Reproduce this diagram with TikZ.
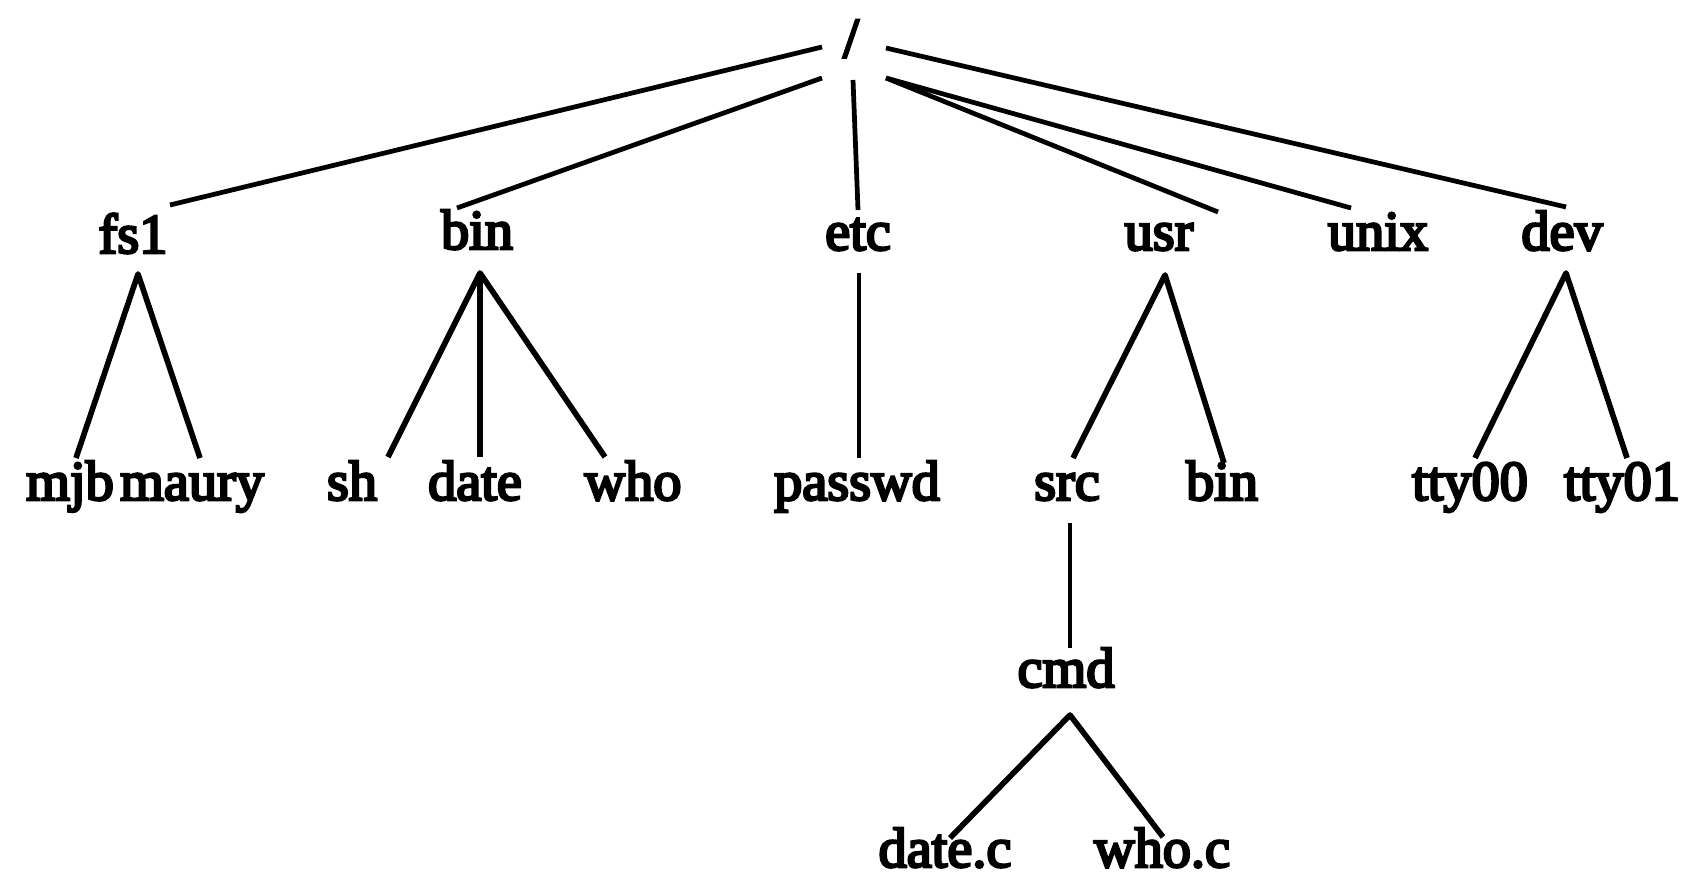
\documentclass[tikz,border=0pt]{standalone}
\usepackage{fontspec}
\setmainfont{Liberation Serif}
\newfontfamily\dirfont{Liberation Serif}[FakeBold=4.5]
\usepackage{tikz}

\tikzset{
  dir/.style={anchor=base, inner sep=0pt, font=\dirfont\fontsize{16}{20}\selectfont},
  topedge/.style={line width=1.35pt},
  subedge/.style={line width=1.6pt, line join=round}
}

\begin{document}
\begin{tikzpicture}[x=0.01cm, y=-0.01cm]

          \useasboundingbox (0, 0) rectangle (1704, 894);

          % root and first level
          \node[dir] (root) at (851, 57) {/};
          \node[dir] (fs1) at (133, 253) {fs1};
          \node[dir] (bin) at (477, 249) {bin};
          \node[dir] (etc) at (858, 250) {etc};
          \node[dir] (usr) at (1159, 250) {usr};
          \node[dir] (unix) at (1378, 250) {unix};
          \node[dir] (dev) at (1562, 250) {dev};

          % second level
          \node[dir] (mjb) at (70, 500) {mjb};
          \node[dir] (maury) at (192, 500) {maury};
          \node[dir] (sh) at (352, 500) {sh};
          \node[dir] (date) at (475, 500) {date};
          \node[dir] (who) at (633, 500) {who};
          \node[dir] (passwd) at (857, 500) {passwd};
          \node[dir] (src) at (1067, 500) {src};
          \node[dir] (usrbin) at (1222, 500) {bin};
          \node[dir] (tty00) at (1470, 500) {tty00};
          \node[dir] (tty01) at (1622, 500) {tty01};

          % below src
          \node[dir] (cmd) at (1066, 687) {cmd};
          \node[dir] (datec) at (945, 867) {date.c};
          \node[dir] (whoc) at (1162, 867) {who.c};

          % edges from the root
          \draw[topedge] ([shift={(-29,-10)}]root.base) -- ([shift={(37,-48)}]fs1.base);
          \draw[topedge] ([shift={(-29,21)}]root.base) -- ([shift={(-20,-41)}]bin.base);
          \draw[topedge] ([shift={(2,23)}]root.base) -- ([shift={(0,-40)}]etc.base);
          \draw[topedge] ([shift={(35,21)}]root.base) -- ([shift={(59,-38)}]usr.base);
          \draw[topedge] ([shift={(35,21)}]root.base) -- ([shift={(-27,-42)}]unix.base);
          \draw[topedge] ([shift={(35,-9)}]root.base) -- ([shift={(4,-43)}]dev.base);

          % edges to the second level
          \draw[subedge] ([shift={(6,-42)}]mjb.base) -- ([shift={(5,21)}]fs1.base) -- ([shift={(8,-42)}]maury.base);
          \draw[subedge] ([shift={(36,-43)}]sh.base) -- ([shift={(3,24)}]bin.base) -- ([shift={(-28,-43)}]who.base);
          \draw[subedge] ([shift={(3,24)}]bin.base) -- ([shift={(5,-43)}]date.base);
          \draw[topedge] ([shift={(1,23)}]etc.base) -- ([shift={(2,-42)}]passwd.base);
          \draw[subedge] ([shift={(6,-42)}]src.base) -- ([shift={(6,25)}]usr.base) -- ([shift={(2,-37)}]usrbin.base);
          \draw[subedge] ([shift={(5,-42)}]tty00.base) -- ([shift={(4,23)}]dev.base) -- ([shift={(5,-42)}]tty01.base);

          % the src subtree
          \draw[line width=1.1pt] ([shift={(3,23)}]src.base) -- ([shift={(4,-39)}]cmd.base);
          \draw[subedge] ([shift={(5,-29)}]datec.base) -- ([shift={(4,28)}]cmd.base) -- ([shift={(1,-30)}]whoc.base);

        \end{tikzpicture}
\end{document}
